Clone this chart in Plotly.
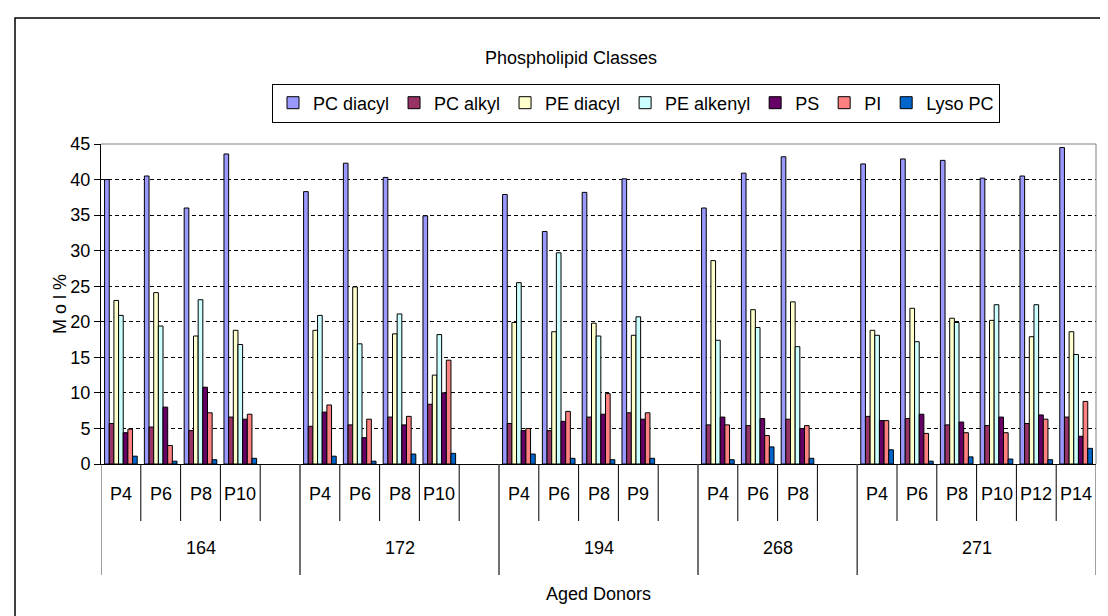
import plotly.graph_objects as go

# ---------------- data ----------------
donors = ["164", "172", "194", "268", "271"]
passages = [
    ["P4", "P6", "P8", "P10"],
    ["P4", "P6", "P8", "P10"],
    ["P4", "P6", "P8", "P9"],
    ["P4", "P6", "P8"],
    ["P4", "P6", "P8", "P10", "P12", "P14"],
]
# one blank slot after each donor except the last
blank_after = [1, 1, 1, 1, 0]

series_names = ["PC diacyl", "PC alkyl", "PE diacyl", "PE alkenyl", "PS", "PI", "Lyso PC"]
pc_diacyl = [40.0, 40.5, 36.0, 43.6, 38.3, 42.3, 40.3, 34.9, 37.9, 32.7, 38.2, 40.1, 36.0, 40.9, 43.2, 42.2, 42.9, 42.7, 40.2, 40.5, 44.5]
pc_alkyl = [5.7, 5.2, 4.7, 6.6, 5.3, 5.5, 6.6, 8.4, 5.7, 4.7, 6.6, 7.2, 5.5, 5.4, 6.3, 6.7, 6.4, 5.5, 5.4, 5.7, 6.6]
pe_diacyl = [23.0, 24.1, 18.0, 18.8, 18.8, 24.9, 18.3, 12.5, 19.9, 18.6, 19.8, 18.1, 28.6, 21.7, 22.8, 18.8, 21.9, 20.5, 20.2, 17.9, 18.6]
pe_alkenyl = [20.9, 19.4, 23.1, 16.8, 20.9, 16.9, 21.1, 18.2, 25.5, 29.7, 18.0, 20.7, 17.4, 19.2, 16.5, 18.1, 17.2, 19.9, 22.4, 22.4, 15.4]
ps = [4.4, 8.0, 10.8, 6.3, 7.3, 3.7, 5.5, 10.0, 4.7, 6.0, 7.0, 6.3, 6.6, 6.4, 5.0, 6.1, 7.0, 5.9, 6.6, 6.9, 3.9]
pi = [4.9, 2.6, 7.2, 7.0, 8.3, 6.3, 6.7, 14.6, 5.0, 7.4, 9.9, 7.2, 5.5, 4.0, 5.4, 6.1, 4.3, 4.4, 4.4, 6.3, 8.8]
lyso_pc = [1.1, 0.4, 0.6, 0.8, 1.1, 0.4, 1.4, 1.5, 1.4, 0.8, 0.6, 0.8, 0.6, 2.4, 0.8, 2.0, 0.4, 1.0, 0.7, 0.6, 2.2]
series_values = [pc_diacyl, pc_alkyl, pe_diacyl, pe_alkenyl, ps, pi, lyso_pc]
colors = ["#9999FF", "#993366", "#FFFFCC", "#CCFFFF", "#660066", "#FF8080", "#0066CC"]

title_text = "Phospholipid Classes"
y_title = "M o l %"
x_title = "Aged Donors"
y_ticks = [0, 5, 10, 15, 20, 25, 30, 35, 40, 45]

FONT = "Liberation Sans, Arial, sans-serif"
FS = 18

# ---------------- slot layout ----------------
sample_x = []          # slot index of each sample
sample_label = []
group_bounds = []      # (start, end) slot boundaries per donor
slot = 0
for d, plist, blank in zip(donors, passages, blank_after):
    start = slot
    for p in plist:
        sample_x.append(slot)
        sample_label.append(p)
        slot += 1
    slot += blank
    group_bounds.append((start, slot))
n_slots = slot

fig = go.Figure()
for name, vals, col in zip(series_names, series_values, colors):
    fig.add_trace(go.Bar(
        x=sample_x, y=vals, name=name,
        marker=dict(color=col, line=dict(color="#000000", width=1)),
    ))

# plot area pixels: x 93..1088, y 136..456
W, H = 1108, 616
L, R, T, B = 93, 1088, 136, 456
pw, ph = R - L, B - T
def px_x(px):
    return (px - L) / pw
def px_y(py):
    return (B - py) / ph

shapes = []
# category separators (short) and group separators (long)
for (s, e) in group_bounds:
    for k in range(s + 1, e):
        shapes.append(dict(type="line", xref="x", yref="paper", x0=k - 0.5, x1=k - 0.5,
                           y0=0, y1=px_y(513), line=dict(color="#000000", width=1)))
    for k in (s, e):
        shapes.append(dict(type="line", xref="x", yref="paper", x0=k - 0.5, x1=k - 0.5,
                           y0=0, y1=px_y(567), line=dict(color="#404040", width=1)))
# top and right plot border (gray)
shapes.append(dict(type="line", xref="paper", yref="paper", x0=0, x1=1, y0=1, y1=1,
                   line=dict(color="#808080", width=1)))
shapes.append(dict(type="line", xref="paper", yref="paper", x0=1, x1=1, y0=0, y1=1,
                   line=dict(color="#808080", width=1)))
# outer chart frame
shapes.append(dict(type="rect", xref="paper", yref="paper",
                   x0=px_x(7), x1=px_x(1103), y0=px_y(613), y1=px_y(10),
                   line=dict(color="#000000", width=1.5), fillcolor="rgba(0,0,0,0)"))

annotations = []
for x, lab in zip(sample_x, sample_label):
    annotations.append(dict(x=x, y=px_y(498), xref="x", yref="paper", text=lab,
                            showarrow=False, font=dict(family=FONT, size=FS, color="#000")))
for d, (s, e) in zip(donors, group_bounds):
    annotations.append(dict(x=(s + e - 1) / 2, y=px_y(552), xref="x", yref="paper", text=d,
                            showarrow=False, font=dict(family=FONT, size=FS, color="#000")))
annotations.append(dict(x=0.5, y=px_y(598), xref="paper", yref="paper", text=x_title,
                        showarrow=False, font=dict(family=FONT, size=FS, color="#000")))
annotations.append(dict(x=px_x(40), y=0.5, xref="paper", yref="paper", text=y_title,
                        textangle=-90, showarrow=False, font=dict(family=FONT, size=FS, color="#000")))

fig.update_layout(
    width=W, height=H,
    margin=dict(l=L, r=W - R, t=T, b=H - B, pad=0),
    paper_bgcolor="#FFFFFF", plot_bgcolor="#FFFFFF",
    font=dict(family=FONT, size=FS, color="#000000"),
    title=dict(text=title_text, x=px_x(563), xref="paper", xanchor="center",
               y=1 - 50 / H, yref="container", yanchor="middle",
               font=dict(family=FONT, size=FS, color="#000")),
    barmode="group", bargap=0.18, bargroupgap=0,
    showlegend=True,
    legend=dict(orientation="h", x=px_x(628), xanchor="center", y=px_y(95), yanchor="middle",
                bordercolor="#000000", borderwidth=1, bgcolor="#FFFFFF",
                font=dict(family=FONT, size=FS, color="#000"), traceorder="normal"),
    xaxis=dict(range=[-0.5, n_slots - 0.5], showticklabels=False, ticks="", showgrid=False,
               zeroline=False, showline=True, linecolor="#000000", linewidth=1),
    yaxis=dict(range=[0, 45], tickvals=y_ticks, ticks="outside", ticklen=6, tickcolor="#000",
               showline=True, linecolor="#000000", linewidth=1, zeroline=False,
               showgrid=True, gridcolor="#000000", gridwidth=1, griddash="4px,3px",
               tickfont=dict(family=FONT, size=FS, color="#000")),
    shapes=shapes, annotations=annotations,
)

fig.write_html("out.html")
